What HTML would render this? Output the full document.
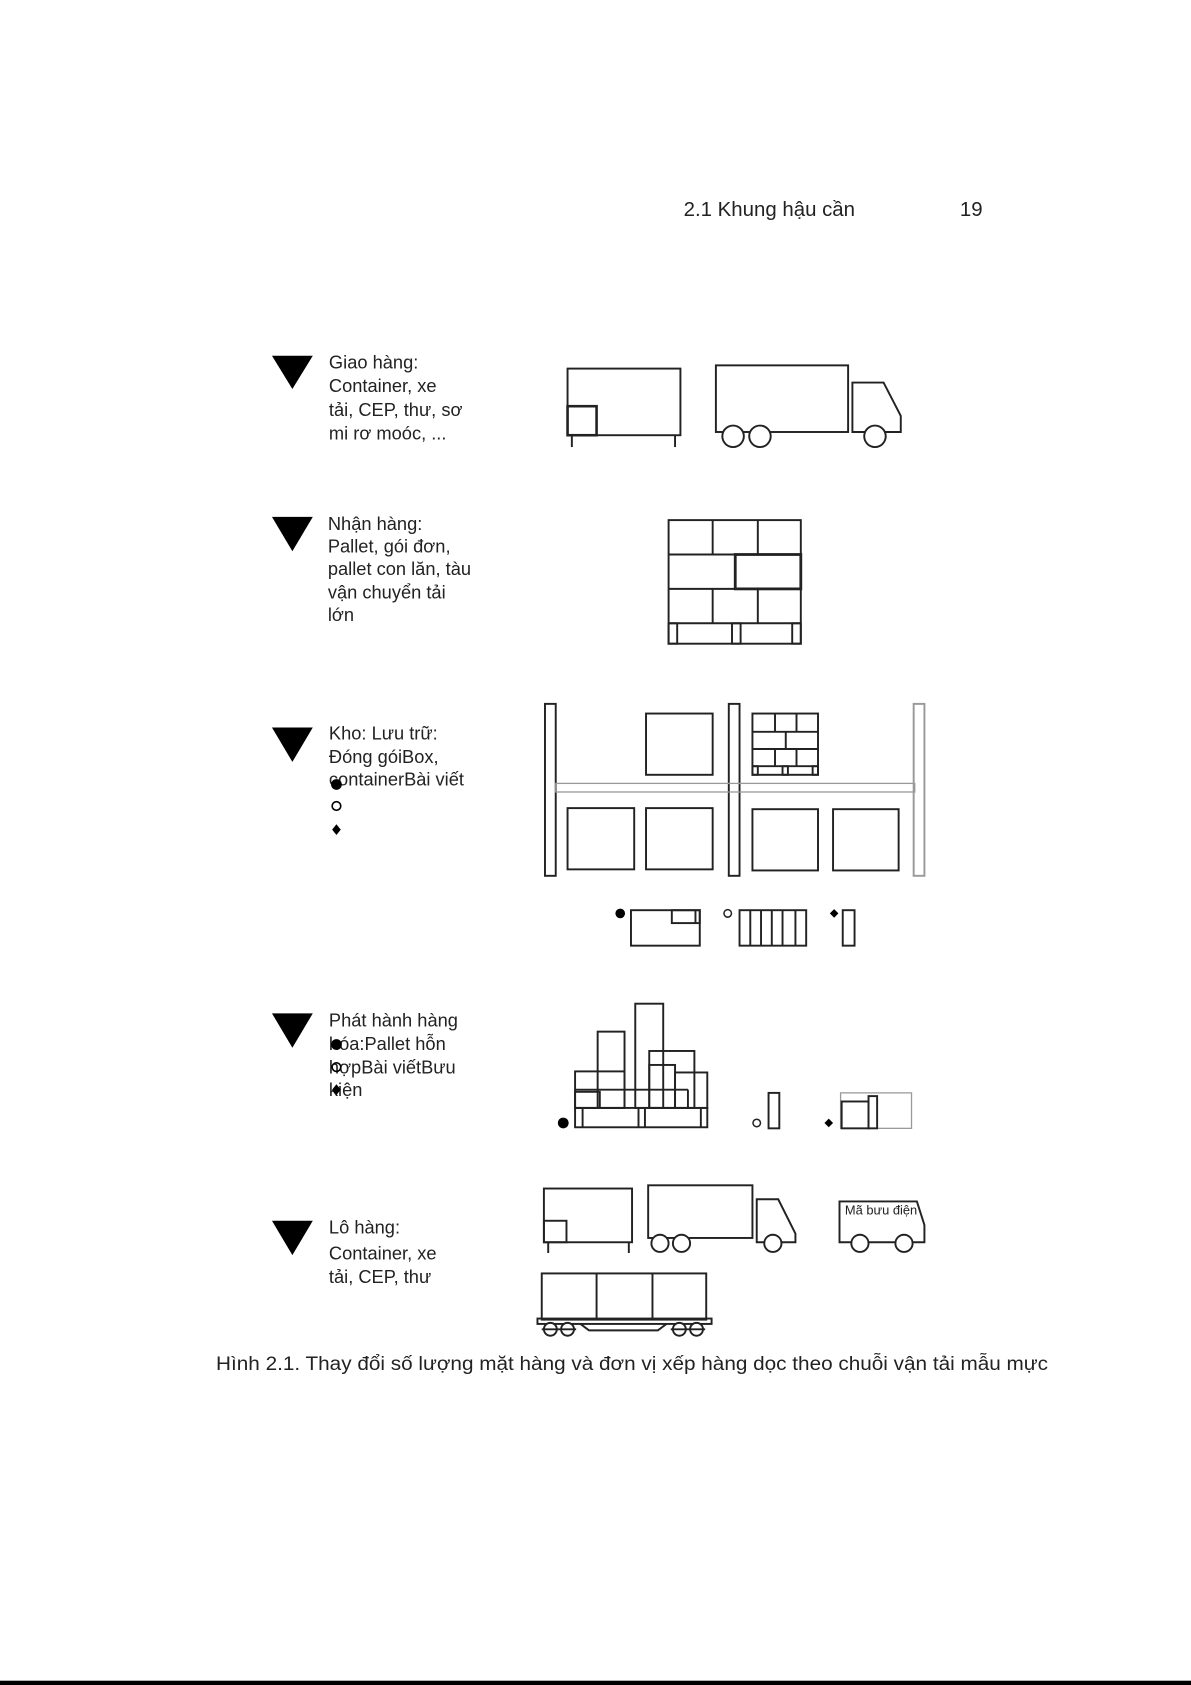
<!DOCTYPE html>
<html><head><meta charset="utf-8"><style>
html,body{margin:0;padding:0;background:#fff;}
svg{display:block;}
text{font-family:"Liberation Sans",Arial,sans-serif;fill:#222;}
</style></head><body>
<svg width="1191" height="1685" viewBox="0 0 1108 1568" preserveAspectRatio="none" xmlns="http://www.w3.org/2000/svg">
<g font-size="19">
<text x="636" y="201">2.1 Khung hậu cần</text>
<text x="893" y="201">19</text>
</g>
<rect x="0" y="1564" width="1108" height="4" fill="#000"/>

<g fill="#000">
<polygon points="253,331 291,331 272,362"/>
<polygon points="253,481 291,481 272,513"/>
<polygon points="253,677 291,677 272,709"/>
<polygon points="253,943 291,943 272,975"/>
<polygon points="253,1136 291,1136 272,1168"/>
</g>

<g font-size="17">
<text x="306" y="343">Giao hàng:</text>
<text x="306" y="365">Container, xe</text>
<text x="306" y="387">tải, CEP, thư, sơ</text>
<text x="306" y="409">mi rơ moóc, ...</text>

<text x="305" y="493">Nhận hàng:</text>
<text x="305" y="514">Pallet, gói đơn,</text>
<text x="305" y="535">pallet con lăn, tàu</text>
<text x="305" y="557">vận chuyển tải</text>
<text x="305" y="578">lớn</text>

<text x="306" y="688">Kho: Lưu trữ:</text>
<text x="306" y="710">Đóng góiBox,</text>
<text x="306" y="731">containerBài viết</text>

<text x="306" y="955">Phát hành hàng</text>
<text x="306" y="977">hóa:Pallet hỗn</text>
<text x="306" y="999">hợpBài viếtBưu</text>
<text x="306" y="1020">kiện</text>

<text x="306" y="1148">Lô hàng:</text>
<text x="306" y="1172">Container, xe</text>
<text x="306" y="1194">tải, CEP, thư</text>
</g>

<circle cx="313" cy="730" r="5" fill="#000"/>
<circle cx="313" cy="750" r="4" fill="none" stroke="#000" stroke-width="1.5"/>
<polygon points="313,767 317,772 313,777 309,772" fill="#000"/>
<circle cx="313" cy="972" r="5" fill="#000"/>
<circle cx="313" cy="993" r="4" fill="none" stroke="#000" stroke-width="1.5"/>
<polygon points="313,1009 317,1014 313,1019 309,1014" fill="#000"/>

<g fill="none" stroke="#222" stroke-width="1.8">
<rect x="528" y="343" width="105" height="62"/>
<rect x="528" y="378" width="27" height="27" stroke-width="2.4"/>
<line x1="532" y1="405" x2="532" y2="416"/>
<line x1="628" y1="405" x2="628" y2="416"/>
<rect x="666" y="340" width="123" height="62"/>
<path d="M793,356 L822,356 L838,387 L838,402 L793,402 Z"/>
<circle cx="682" cy="406" r="10" fill="#fff"/>
<circle cx="707" cy="406" r="10" fill="#fff"/>
<circle cx="814" cy="406" r="10" fill="#fff"/>

<rect x="622" y="484" width="123" height="115"/>
<line x1="622" y1="516" x2="745" y2="516"/>
<line x1="622" y1="548" x2="745" y2="548"/>
<line x1="622" y1="580" x2="745" y2="580"/>
<line x1="663" y1="484" x2="663" y2="516"/>
<line x1="705" y1="484" x2="705" y2="516"/>
<rect x="684" y="516" width="61" height="32" stroke-width="2.6"/>
<line x1="663" y1="548" x2="663" y2="580"/>
<line x1="705" y1="548" x2="705" y2="580"/>
<rect x="622" y="580" width="8" height="19"/>
<rect x="681" y="580" width="8" height="19"/>
<rect x="737" y="580" width="8" height="19"/>

<rect x="507" y="655" width="10" height="160"/>
<rect x="678" y="655" width="10" height="160"/>
<rect x="850" y="655" width="10" height="160" stroke="#999"/>
<rect x="517" y="729" width="334" height="8" stroke="#999" stroke-width="1.2"/>
<rect x="601" y="664" width="62" height="57"/>
<rect x="700" y="664" width="61" height="57"/>
<line x1="700" y1="681" x2="761" y2="681"/>
<line x1="700" y1="697" x2="761" y2="697"/>
<line x1="700" y1="713" x2="761" y2="713"/>
<line x1="721" y1="664" x2="721" y2="681"/>
<line x1="741" y1="664" x2="741" y2="681"/>
<line x1="731" y1="681" x2="731" y2="697"/>
<line x1="721" y1="697" x2="721" y2="713"/>
<line x1="741" y1="697" x2="741" y2="713"/>
<rect x="700" y="713" width="5" height="8"/>
<rect x="728" y="713" width="5" height="8"/>
<rect x="756" y="713" width="5" height="8"/>
<rect x="528" y="752" width="62" height="57"/>
<rect x="601" y="752" width="62" height="57"/>
<rect x="700" y="753" width="61" height="57"/>
<rect x="775" y="753" width="61" height="57"/>

<rect x="587" y="847" width="64" height="33"/>
<rect x="625" y="847" width="26" height="12"/>
<line x1="647" y1="847" x2="647" y2="859"/>
<rect x="688" y="847" width="62" height="33"/>
<line x1="698" y1="847" x2="698" y2="880"/>
<line x1="708" y1="847" x2="708" y2="880"/>
<line x1="718" y1="847" x2="718" y2="880"/>
<line x1="728" y1="847" x2="728" y2="880"/>
<line x1="740" y1="847" x2="740" y2="880"/>
<rect x="784" y="847" width="11" height="33"/>

<rect x="591" y="934" width="26" height="97"/>
<rect x="556" y="960" width="25" height="71"/>
<rect x="535" y="997" width="46" height="34"/>
<rect x="535" y="1016" width="23" height="15"/>
<rect x="604" y="978" width="42" height="53"/>
<rect x="604" y="991" width="24" height="40"/>
<rect x="628" y="998" width="30" height="33"/>
<line x1="535" y1="1014" x2="640" y2="1014"/>
<line x1="640" y1="1014" x2="640" y2="1031"/>
<rect x="535" y="1031" width="123" height="18"/>
<line x1="542" y1="1031" x2="542" y2="1049"/>
<line x1="594" y1="1031" x2="594" y2="1049"/>
<line x1="600" y1="1031" x2="600" y2="1049"/>
<line x1="652" y1="1031" x2="652" y2="1049"/>
<rect x="715" y="1017" width="10" height="33"/>
<rect x="782" y="1017" width="66" height="33" stroke="#999" stroke-width="1.2"/>
<rect x="783" y="1025" width="25" height="25"/>
<rect x="808" y="1020" width="8" height="30"/>

<rect x="506" y="1106" width="82" height="50"/>
<rect x="506" y="1136" width="21" height="20"/>
<line x1="510" y1="1156" x2="510" y2="1166"/>
<line x1="585" y1="1156" x2="585" y2="1166"/>
<rect x="603" y="1103" width="97" height="49"/>
<path d="M704,1116 L724,1116 L740,1148 L740,1156 L704,1156 Z"/>
<circle cx="614" cy="1157" r="8" fill="#fff"/>
<circle cx="634" cy="1157" r="8" fill="#fff"/>
<circle cx="719" cy="1157" r="8" fill="#fff"/>
<path d="M781,1118 L853,1118 L860,1140 L860,1156 L781,1156 Z"/>
<circle cx="800" cy="1157" r="8" fill="#fff"/>
<circle cx="841" cy="1157" r="8" fill="#fff"/>
<rect x="504" y="1185" width="153" height="43"/>
<line x1="555" y1="1185" x2="555" y2="1228"/>
<line x1="607" y1="1185" x2="607" y2="1228"/>
<rect x="500" y="1227" width="162" height="5"/>
<path d="M540,1232 L548,1238 L612,1238 L620,1232"/>
<circle cx="512" cy="1237" r="6" fill="#fff"/>
<circle cx="528" cy="1237" r="6" fill="#fff"/>
<circle cx="632" cy="1237" r="6" fill="#fff"/>
<circle cx="648" cy="1237" r="6" fill="#fff"/>
<line x1="504" y1="1237" x2="536" y2="1237"/>
<line x1="624" y1="1237" x2="656" y2="1237"/>
</g>

<g fill="#000">
<circle cx="577" cy="850" r="4.5"/>
<polygon points="776,846 780,850 776,854 772,850"/>
<circle cx="524" cy="1045" r="5"/>
<polygon points="771,1041 775,1045 771,1049 767,1045"/>
</g>
<circle cx="677" cy="850" r="3.5" fill="none" stroke="#222" stroke-width="1.4"/>
<circle cx="704" cy="1045" r="3.5" fill="none" stroke="#222" stroke-width="1.4"/>

<text x="786" y="1130" font-size="12">Mã bưu điện</text>

<text x="201" y="1275" font-size="18" textLength="774" lengthAdjust="spacingAndGlyphs">Hình 2.1. Thay đổi số lượng mặt hàng và đơn vị xếp hàng dọc theo chuỗi vận tải mẫu mực</text>
</svg>
</body></html>
